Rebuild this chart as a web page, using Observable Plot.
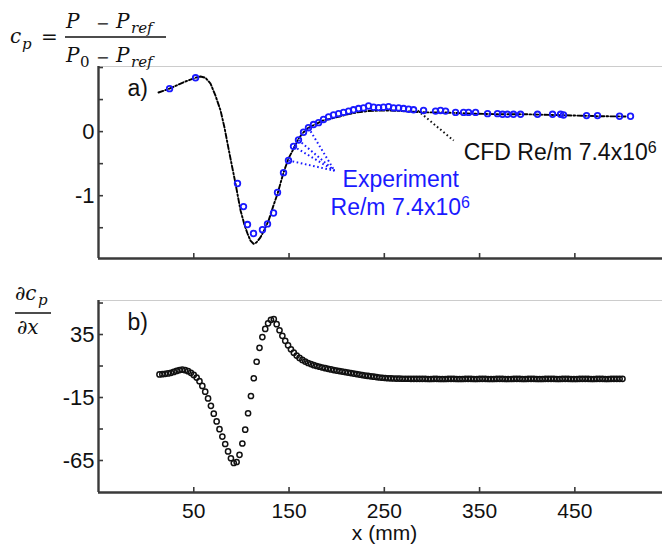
<!DOCTYPE html>
<html><head><meta charset="utf-8">
<script src="https://cdn.jsdelivr.net/npm/d3@7"></script>
<script src="https://cdn.jsdelivr.net/npm/@observablehq/plot@0.6"></script>
<style>
body{margin:0;background:#fff;}
#wrap{position:relative;width:662px;height:552px;overflow:hidden;background:#fff;}
#top,#bot,#ovl{position:absolute;left:0;width:662px;}
#top{top:0;} #bot{top:270px;} #ovl{top:0;pointer-events:none;}
</style></head><body>
<div id="wrap"><div id="top"></div><div id="bot"></div>
<svg id="ovl" width="662" height="552">
 <g font-family="DejaVu Serif, Liberation Serif, serif" font-style="italic" fill="#111">
  <text x="10" y="43" font-size="20">c</text>
  <text x="22" y="49" font-size="15">p</text>
  <text x="41" y="43.5" font-size="20" font-style="normal">=</text>
  <text x="66" y="28" font-size="20">P</text>
  <text x="96" y="28.5" font-size="16" font-style="normal">−</text>
  <text x="116" y="28" font-size="20">P</text>
  <text x="131" y="33" font-size="15">ref</text>
  <line x1="65" x2="166" y1="37" y2="37" stroke="#111" stroke-width="1.3"/>
  <text x="66" y="62" font-size="20">P</text>
  <text x="80" y="67" font-size="15" font-style="normal">0</text>
  <text x="96" y="62.5" font-size="16" font-style="normal">−</text>
  <text x="116" y="62" font-size="20">P</text>
  <text x="131" y="67" font-size="15">ref</text>
  <text x="15" y="300" font-size="20">∂c</text>
  <text x="38" y="305" font-size="15">p</text>
  <line x1="15" x2="51" y1="313" y2="313" stroke="#111" stroke-width="1.3"/>
  <text x="17" y="334" font-size="20">∂x</text>
 </g>
</svg></div>
<script>
// ---- data ----
const xTicks = [50, 150, 250, 350, 450];
const xTickLabels = ["50", "150", "250", "350", "450"];
const topYTicks = [-1.5, -1, -0.5, 0, 0.5, 1];
const topYLabels = [0, -1];
const botYTicks = [-65, -40, -15, 10, 35, 60];
const botYLabels = [35, -15, -65];

// CFD cp line
const cfdX = [13.0, 24.5, 39.2, 51.8, 57.1, 62.3, 67.6, 72.8, 78.1, 82.3, 85.5, 89.6, 93.8, 99.1, 103.3, 106.4, 109.5, 112.7, 115.8, 120.0, 124.2, 128.5, 133.7, 137.9, 144.2, 149.4, 153.6, 159.9, 165.2, 170.4, 175.7, 185.1, 193.5, 204.0, 211.4, 221.9, 232.4, 246.0, 256.5, 269.1, 280.6, 293.2, 309.0, 343.6, 372.0, 400.3, 426.5, 452.8, 476.9, 503.2];
const cfdCp = [0.61, 0.67, 0.77, 0.84, 0.86, 0.84, 0.75, 0.56, 0.33, 0.06, -0.19, -0.50, -0.81, -1.23, -1.46, -1.59, -1.70, -1.75, -1.73, -1.65, -1.53, -1.39, -1.15, -0.97, -0.64, -0.42, -0.30, -0.11, -0.01, 0.06, 0.10, 0.17, 0.20, 0.24, 0.27, 0.30, 0.32, 0.33, 0.33, 0.32, 0.31, 0.30, 0.30, 0.28, 0.27, 0.27, 0.26, 0.25, 0.24, 0.236];

// Experiment cp points
const expX = [24.6, 51.9, 95.9, 102.2, 106.4, 112.7, 122.1, 127.4, 133.7, 137.9, 144.2, 149.4, 154.7, 159.9, 165.2, 170.4, 175.7, 181.0, 186.2, 191.5, 196.7, 202.0, 207.2, 212.5, 217.7, 223.0, 228.2, 233.5, 238.7, 244.0, 249.2, 254.5, 259.7, 265.0, 270.2, 275.5, 280.7, 291.2, 303.8, 309.0, 314.3, 324.8, 333.2, 338.4, 345.8, 358.4, 368.8, 374.1, 379.3, 385.6, 393.0, 410.8, 426.6, 435.0, 438.1, 462.3, 473.8, 496.9, 508.4];
const expCp = [0.67, 0.84, -0.81, -1.17, -1.45, -1.59, -1.53, -1.44, -1.27, -0.95, -0.64, -0.45, -0.23, -0.13, -0.01, 0.06, 0.11, 0.14, 0.19, 0.23, 0.26, 0.28, 0.30, 0.32, 0.34, 0.36, 0.37, 0.40, 0.38, 0.375, 0.38, 0.39, 0.37, 0.37, 0.36, 0.35, 0.34, 0.33, 0.32, 0.33, 0.32, 0.30, 0.30, 0.30, 0.30, 0.28, 0.28, 0.27, 0.27, 0.27, 0.27, 0.27, 0.27, 0.27, 0.26, 0.25, 0.25, 0.24, 0.24];

// dcp/dx points
const dX = [14, 17, 20, 23, 26, 29, 32, 35, 38, 41, 44, 47, 50, 53, 56, 59, 62, 65, 68, 71, 74, 77, 80, 83, 86, 89, 92, 95, 98, 101, 104, 107, 110, 113, 116, 119, 122, 125, 128, 131, 134, 137, 140, 143, 146, 149, 152, 155, 158, 161, 164, 167, 170, 173, 176, 179, 182, 185, 188, 191, 194, 197, 200, 203, 206, 209, 212, 215, 218, 221, 224, 227, 230, 233, 236, 239, 242, 245, 248, 251, 254, 257, 260,
  263, 266, 269, 272, 275, 278, 281, 284, 287, 290, 293, 296, 299, 302, 305, 308, 311, 314, 317, 320, 323, 326, 329, 332, 335, 338, 341, 344, 347, 350, 353, 356, 359, 362, 365, 368, 371, 374, 377, 380, 383, 386, 389, 392, 395, 398, 401, 404, 407, 410, 413, 416, 419, 422, 425, 428, 431, 434, 437, 440, 443, 446, 449, 452, 455, 458, 461, 464, 467, 470, 473, 476, 479, 482, 485, 488, 491, 494, 497, 500];
const dCp = [3.3, 3.5, 3.8, 4.1, 4.6, 5.3, 6.1, 6.8, 7.1, 6.7, 5.9, 4.6, 2.9, 0.8, -2.0, -5.8, -10.4, -15.7, -21.6, -27.8, -34.0, -40.1, -46.0, -51.9, -57.8, -63.2, -67.0, -66.2, -60.5, -51.5, -40.5, -27.5, -13.8, 0.3, 13.4, 24.4, 33.0, 39.4, 43.9, 46.7, 47.3, 43.2, 38.4, 34.0, 30.0, 26.4, 23.3, 20.6, 18.3, 16.4, 14.8, 13.5, 12.4, 11.5, 10.7, 10.0, 9.4, 8.8, 8.3, 7.8, 7.3, 6.8, 6.4, 6.0, 5.6, 5.2, 4.8, 4.4, 4.0, 3.6, 3.2, 2.8, 2.4, 2.1, 1.8, 1.5, 1.2, 0.9, 0.7, 0.5, 0.3, 0.2, 0.1,
  0.0, 0.0, -0.1, -0.1, -0.1, -0.2, -0.2, -0.2, -0.2, -0.2, -0.2, -0.3, -0.3, -0.2, -0.2, -0.3, -0.3, -0.3, -0.2, -0.2, -0.2, -0.3, -0.3, -0.3, -0.2, -0.2, -0.2, -0.3, -0.3, -0.2, -0.2, -0.2, -0.3, -0.3, -0.3, -0.2, -0.2, -0.2, -0.3, -0.3, -0.3, -0.2, -0.2, -0.2, -0.3, -0.3, -0.2, -0.2, -0.2, -0.3, -0.3, -0.3, -0.2, -0.2, -0.2, -0.2, -0.3, -0.3, -0.2, -0.2, -0.2, -0.3, -0.3, -0.3, -0.2, -0.2, -0.2, -0.2, -0.3, -0.3, -0.2, -0.2, -0.2, -0.3, -0.3, -0.2, -0.2, -0.2, -0.2, -0.2];

// annotation leader lines (data units) and labels
const expLeaderFromX = [149.4, 154.7, 159.9, 170.4];
const expLeaderFromCp = [-0.45, -0.23, -0.13, 0.06];
const expLeaderTo = [197.7, -0.61];
const cfdLeader = [[285.0, 0.33], [322.8, -0.14]];
const labelsTop = [
  {x: 206.2, y: -0.747, text: "Experiment", color: "#1a1aff"},
  {x: 193.6, y: -1.184, text: "Re/m 7.4x10^6", color: "#1a1aff"},
  {x: 333.3, y: -0.326, text: "CFD Re/m 7.4x10^6", color: "#111"},
  {x: -19.5, y: 0.673, text: "a)", color: "#111"}
];
const labelsBot = [{x: -19.5, y: 44.5, text: "b)"}];
const xAxisTitle = "x (mm)";

// ---- build tables ----
const cfd = cfdX.map((x, i) => ({x, y: cfdCp[i]}));
const expt = expX.map((x, i) => ({x, y: expCp[i]}));
const deriv = dX.map((x, i) => ({x, y: dCp[i]}));
const expLinks = expLeaderFromX.map((x, i) => ({x1: x, y1: expLeaderFromCp[i], x2: expLeaderTo[0], y2: expLeaderTo[1]}));
const cfdLinks = [{x1: cfdLeader[0][0], y1: cfdLeader[0][1], x2: cfdLeader[1][0], y2: cfdLeader[1][1]}];

const xDomain = [-50, 542];
const topYDomain = [-1.98, 1.016];
const botYDomain = [-90.4, 62];
const font = "Liberation Sans, Arial, sans-serif";
const axisColor = "#3a3a3a";
const plotW = 662 - 98;

const topPlot = Plot.plot({
  width: 662, height: 270, marginLeft: 98, marginRight: 0, marginTop: 66, marginBottom: 12,
  style: {fontFamily: font, fontSize: "22px", background: "transparent", overflow: "visible", color: "#111"},
  x: {domain: xDomain, axis: null, label: null},
  y: {domain: topYDomain, axis: null, label: null},
  marks: [
    Plot.ruleY([topYDomain[1]], {stroke: "#cccccc", strokeWidth: 1.2}),
    Plot.tickX(xTicks, {x: d => d, insetTop: 187, stroke: axisColor, strokeWidth: 1.6}),
    Plot.tickY(topYTicks, {y: d => d, insetRight: plotW - 5, stroke: axisColor, strokeWidth: 1.6}),
    Plot.axisY({ticks: topYLabels, tickSize: 0, tickPadding: 4, tickFormat: d => String(d), fontSize: 22, label: null}),
    Plot.ruleX([xDomain[0]], {stroke: axisColor, strokeWidth: 2.4}),
    Plot.ruleY([topYDomain[0]], {stroke: axisColor, strokeWidth: 2.4}),
    Plot.line(cfd, {x: "x", y: "y", stroke: "#000", strokeWidth: 1.9, strokeDasharray: "5,2.2,1.6,2.2"}),
    Plot.link(expLinks, {x1: "x1", y1: "y1", x2: "x2", y2: "y2", stroke: "#1a1aff", strokeWidth: 2, strokeDasharray: "1.6,2.6"}),
    Plot.link(cfdLinks, {x1: "x1", y1: "y1", x2: "x2", y2: "y2", stroke: "#111", strokeWidth: 2, strokeDasharray: "1.6,2.6"}),
    Plot.dot(expt, {x: "x", y: "y", r: 2.8, stroke: "#1a1aff", strokeWidth: 1.8, fill: "none"}),
    Plot.text(labelsTop, {x: "x", y: "y", text: "text", fill: "color", textAnchor: "start", fontSize: 23})
  ]
});

const botPlot = Plot.plot({
  width: 662, height: 282, marginLeft: 98, marginRight: 0, marginTop: 30, marginBottom: 60,
  style: {fontFamily: font, fontSize: "22px", background: "transparent", overflow: "visible", color: "#111"},
  x: {domain: xDomain, axis: null, label: null},
  y: {domain: botYDomain, axis: null, label: null},
  marks: [
    Plot.ruleY([botYDomain[1]], {stroke: "#cccccc", strokeWidth: 1.2}),
    Plot.tickX(xTicks, {x: d => d, insetTop: 187, stroke: axisColor, strokeWidth: 1.6}),
    Plot.tickY(botYTicks, {y: d => d, insetRight: plotW - 5, stroke: axisColor, strokeWidth: 1.6}),
    Plot.axisY({ticks: botYLabels, tickSize: 0, tickPadding: 4, tickFormat: d => String(d), fontSize: 22, label: null}),
    Plot.axisX({ticks: xTicks, tickSize: 0, tickPadding: 11, tickFormat: d => xTickLabels[xTicks.indexOf(d)], fontSize: 21, label: null}),
    Plot.ruleX([xDomain[0]], {stroke: axisColor, strokeWidth: 2.4}),
    Plot.ruleY([botYDomain[0]], {stroke: axisColor, strokeWidth: 2.4}),
    Plot.dot(deriv, {x: "x", y: "y", r: 2.6, stroke: "#111", strokeWidth: 1.5, fill: "none"}),
    Plot.text(labelsBot, {x: "x", y: "y", text: "text", fill: "#111", textAnchor: "start", fontSize: 23}),
    Plot.text([xAxisTitle], {frameAnchor: "bottom", text: d => d, dy: 47, dx: 4, fontSize: 21, fill: "#111"})
  ]
});

document.getElementById("top").appendChild(topPlot);
document.getElementById("bot").appendChild(botPlot);

// superscripts
d3.selectAll("#wrap svg text").each(function () {
  const t = this.textContent;
  if (t.includes("^") && this.childElementCount === 0) {
    const [base, sup] = t.split("^");
    this.textContent = base;
    d3.select(this).append("tspan").attr("dy", "-0.45em").attr("font-size", "16px").text(sup);
  }
});
</script>
</body></html>
